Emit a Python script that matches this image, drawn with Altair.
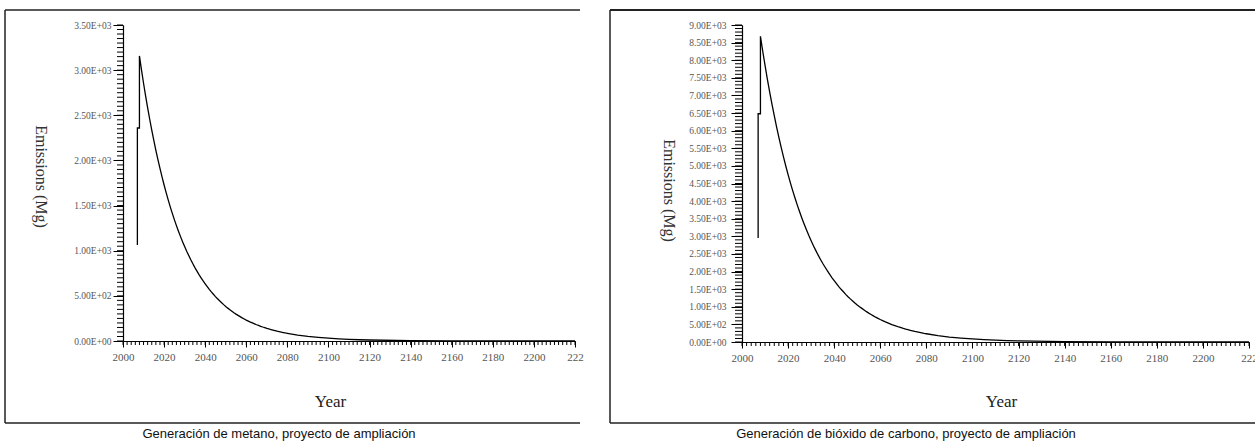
import altair as alt
import pandas as pd

# ---------------- data ----------------
years = ([2007, 2007, 2008, 2008] + list(range(2009, 2081))
         + [2085, 2090, 2095, 2100, 2105, 2110, 2115, 2120, 2140, 2160, 2180, 2200, 2220])

ch4 = [1063, 2359, 2359, 3157,
       3002, 2855, 2715, 2582, 2456, 2336, 2221, 2112, 2009,
       1911, 1817, 1728, 1643, 1563, 1486, 1413, 1344, 1278, 1216,
       1156, 1099, 1046, 994, 946, 899, 855, 813, 774, 736,
       700, 665, 633, 602, 572, 544, 518, 492, 468, 445,
       424, 403, 383, 364, 347, 330, 313, 298, 284, 270,
       256, 244, 232, 221, 210, 200, 190, 180, 172, 163,
       155, 148, 140, 133, 127, 121, 115, 109, 104, 99,
       94, 89, 85,
       66, 51, 40, 31, 24, 19, 14, 11, 4, 1, 0.5, 0.1, 0]

co2 = [2950, 6480, 6480, 8680,
       8255, 7851, 7466, 7100, 6754, 6424, 6108, 5808, 5525,
       5255, 4997, 4752, 4518, 4298, 4087, 3886, 3696, 3515, 3344,
       3179, 3022, 2877, 2734, 2602, 2472, 2351, 2236, 2129, 2024,
       1925, 1829, 1741, 1656, 1573, 1496, 1425, 1353, 1287, 1224,
       1166, 1108, 1053, 1001, 954, 908, 861, 820, 781, 743,
       704, 671, 638, 608, 578, 550, 523, 495, 473, 448,
       426, 407, 385, 366, 349, 333, 316, 300, 286, 272,
       259, 245, 234,
       183, 141, 110, 86, 67, 52, 39, 30, 10, 3, 1.4, 0.3, 0]

x_major = list(range(2000, 2221, 20))
x_minor = list(range(2000, 2221, 2))
y_major_ch4 = list(range(0, 3501, 500))
y_minor_ch4 = list(range(0, 3501, 50))
y_major_co2 = list(range(0, 9001, 500))
y_minor_co2 = list(range(0, 9001, 100))

caption_left = "Generación de metano, proyecto de ampliación"
caption_right = "Generación de bióxido de carbono, proyecto de ampliación"
x_title = "Year"
y_title = "Emissions (Mg)"

df_ch4 = pd.DataFrame({"i": range(len(years)), "year": years, "value": ch4})
df_co2 = pd.DataFrame({"i": range(len(years)), "year": years, "value": co2})
dummy = pd.DataFrame({"d": [0]})

# ---------------- helpers ----------------
EXP = "floor(log(datum.value)/LN10 + 1e-9)"
SCI = ("datum.value == 0 ? '0.00E+00' : format(datum.value / pow(10, " + EXP + "), '.2f') + 'E+' + ("
       + EXP + " < 10 ? '0' : '') + " + EXP)
X_LABEL = "datum.value == 2220 ? '222' : '' + datum.value"

COMMON = dict(domainColor="black", domainWidth=1.2, tickColor="black", tickWidth=1,
              grid=False, tickCount=1000, labelOverlap=False, labelFlush=False,
              labelFont="Liberation Serif", labelColor="#555555",
              titleFont="Liberation Serif", titleFontWeight="normal",
              titleAlign="center", titleBaseline="middle")


def panel(df, x_range, y_domain, y_range, y_major, y_minor,
          ytick_major, ytick_minor, ylab_pad, xtitle_pos, ytitle_pos):
    x0, y0 = x_range[0], y_range[0]
    xs = alt.Scale(domain=[2000, 2220], range=x_range, nice=False, zero=False)
    ys = alt.Scale(domain=y_domain, range=y_range, nice=False)
    xax = alt.Axis(
        orient="bottom", offset=y0 - 447, values=x_major, labelExpr=X_LABEL,
        labelFontSize=11, labelPadding=4, tickSize=6,
        title=x_title, titleFontSize=17, titleColor="#222222",
        titleX=xtitle_pos[0], titleY=xtitle_pos[1], **COMMON)
    yax = alt.Axis(
        orient="left", offset=-x0, values=y_major, labelExpr=SCI,
        labelFontSize=9.5, labelPadding=ylab_pad, tickSize=ytick_major,
        title=y_title, titleFontSize=16, titleColor="#333333", titleAngle=90,
        titleX=ytitle_pos[0], titleY=ytitle_pos[1], **COMMON)
    line = alt.Chart(df).mark_line(color="black", strokeWidth=1.3).encode(
        x=alt.X("year:Q", scale=xs, axis=xax, title=x_title),
        y=alt.Y("value:Q", scale=ys, axis=yax, title=y_title),
        order=alt.Order("i:Q"),
    )
    xminor = alt.Chart(pd.DataFrame({"t": x_minor})).mark_rule(color="black", strokeWidth=1).encode(
        x=alt.X("t:Q", scale=xs, axis=xax, title=x_title),
        y=alt.value(y0), y2=alt.value(y0 + 4),
    )
    yminor = alt.Chart(pd.DataFrame({"t": y_minor})).mark_rule(color="black", strokeWidth=1).encode(
        y=alt.Y("t:Q", scale=ys, axis=yax, title=y_title),
        x=alt.value(x0 - ytick_minor), x2=alt.value(x0),
    )
    return alt.layer(line, xminor, yminor)


left = panel(df_ch4, [123, 575], [0, 3500], [341, 25], y_major_ch4, y_minor_ch4,
             10, 6, 2, (330, 60), (-83, 176))
right = panel(df_co2, [742, 1249], [0, 9000], [342, 25], y_major_co2, y_minor_co2,
              11, 7, 5, (1001, 59), (-74, 190))


def hline(x1, x2, y, w=1.5):
    return alt.Chart(dummy).mark_rule(color="#222222", strokeWidth=w).encode(
        x=alt.value(x1), x2=alt.value(x2), y=alt.value(y))


def vline(x, y1, y2, w=1.5):
    return alt.Chart(dummy).mark_rule(color="#222222", strokeWidth=w).encode(
        x=alt.value(x), y=alt.value(y1), y2=alt.value(y2))


frames = [
    hline(5, 580, 10), vline(5, 10, 423), hline(5, 580, 423),
    hline(610, 1255, 10, 2), vline(610, 10, 423), hline(610, 1255, 423),
]


def caption(text, x, y):
    return alt.Chart(dummy).mark_text(font="Liberation Sans", fontSize=13, color="#111111",
                                      align="center", baseline="middle").encode(
        x=alt.value(x), y=alt.value(y), text=alt.value(text))


chart = alt.layer(
    left, right, *frames,
    caption(caption_left, 279, 434), caption(caption_right, 906, 434),
).resolve_scale(x="independent", y="independent").resolve_axis(
    x="independent", y="independent"
).properties(
    width=1255, height=447, padding=0, autosize=alt.AutoSizeParams(type="none"),
    background="white"
).configure_view(stroke=None)

chart.save("out.html", embed_options={"renderer": "svg", "actions": False})
